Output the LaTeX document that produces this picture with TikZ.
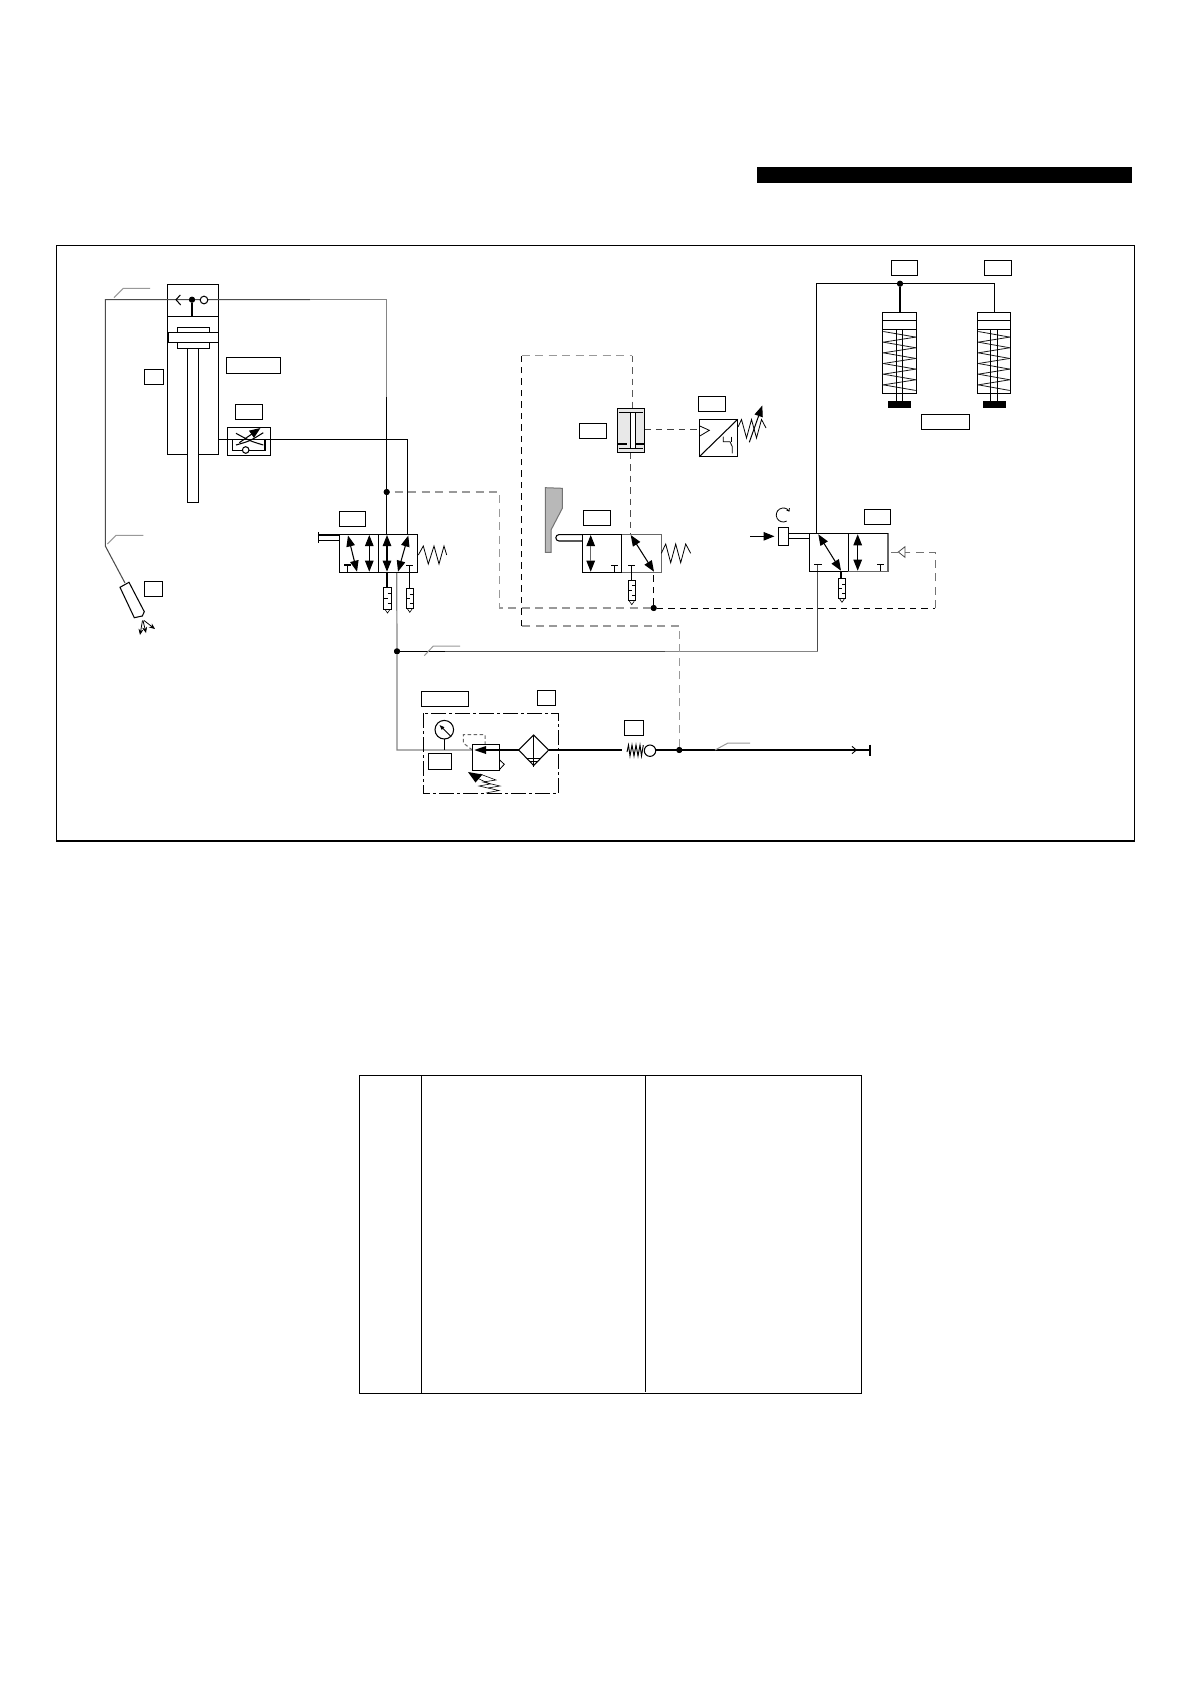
\documentclass[tikz,border=0pt]{standalone}
\usetikzlibrary{arrows.meta,patterns}
\definecolor{pipedark}{gray}{0.30}
\definecolor{pipegray}{gray}{0.52}
\definecolor{leadgray}{gray}{0.60}
\tikzset{
  x=1pt,y=-1pt,
  every path/.append style={line join=miter},
  base/.style={line width=1.05pt,draw=black},
  thinl/.style={line width=0.8pt,draw=black},
  pipe/.style={line width=1.05pt,draw=black},
  pipeD/.style={line width=1.05pt,draw=pipedark},
  pipeG/.style={line width=1.2pt,draw=pipegray},
  leaderl/.style={line width=1pt,draw=leadgray},
  pilotK/.style={line width=0.95pt,draw=black,dash pattern=on 6.5pt off 5pt},
  pilotG/.style={line width=1.2pt,draw=leadgray,dash pattern=on 8pt off 5.5pt},
  labelbox/.style={draw=black,line width=1pt,fill=white,inner sep=0pt,outer sep=0pt},
  dot/.style={circle,fill=black,inner sep=0pt,minimum size=6pt},
  dbl/.style={line width=1.05pt,{Triangle[length=11pt,width=8.5pt]}-{Triangle[length=11pt,width=8.5pt]}},
  sing/.style={line width=1.05pt,-{Triangle[length=11pt,width=8.5pt]}},
  frameline/.style={draw=black,line width=1.05pt},
}
% empty label box given by its corners
\newcommand{\lbox}[5]{%
  \pgfmathsetmacro{\lcx}{(#2+#4)/2}\pgfmathsetmacro{\lcy}{(#3+#5)/2}%
  \pgfmathsetmacro{\lw}{#4-#2}\pgfmathsetmacro{\lh}{#5-#3}%
  \node[labelbox,minimum width=\lw pt,minimum height=\lh pt] (#1) at (\lcx,\lcy) {};}
% silencer: centre x, top, bottom, half width
\newcommand{\silencer}[4]{%
  \pgfmathsetmacro{\sl}{#1-#4}\pgfmathsetmacro{\sr}{#1+#4}%
  \pgfmathsetmacro{\sa}{#2+(#3-#2)*0.28}\pgfmathsetmacro{\sb}{#2+(#3-#2)*0.5}\pgfmathsetmacro{\sc}{#2+(#3-#2)*0.75}%
  \draw[thinl,line width=1pt] (\sl,#2) rectangle (\sr,#3);
  \draw[thinl] (#1,\sa) -- (\sr,\sa) (\sl,\sb) -- (#1,\sb) (#1,\sc) -- (\sr,\sc);
  \draw[thinl,line width=.6pt] (#1-2.4,#3+.5) -- (#1,#3+4) -- (#1+2.4,#3+.5);}
% spring cylinder
\newcommand{\springcyl}[6]{% x1 x2 rod1 rod2 pad1 pad2
  \draw[base] (#1,312.3) rectangle (#2,393.7);
  \draw[base] (#1,320.3) -- (#2,320.3) (#1,329.3) -- (#2,329.3);
  \foreach \k in {0,...,5}{
    \pgfmathsetmacro{\ya}{331.5+10.67*\k}\pgfmathsetmacro{\yb}{\ya+5.6}\pgfmathsetmacro{\yc}{\ya+10.67}
    \draw[line width=.8pt,draw=black!90] (#1+1,\ya) -- (#2-1,\yb);
    \ifnum\k<5 \draw[line width=.8pt,draw=black!90] (#2-1,\yb) -- (#1+1,\yc);\fi
  }
  \draw[base] (#3,329.3) -- (#3,401) (#4,329.3) -- (#4,401);
  \fill[black] (#5,401) rectangle (#6,407.7);}
\begin{document}
\begin{tikzpicture}
\useasboundingbox (0,0) rectangle (1190,1684);
\fill[white] (0,0) rectangle (1190,1684);

% title bar, frame, table
\fill[black] (757.4,166.7) rectangle (1132.2,182.7);
\draw[frameline] (56.3,245.3) rectangle (1134.8,841);
\draw[line width=1.1pt] (359.3,1075.3) rectangle (861.6,1393.3);
\draw[line width=1.1pt] (421.4,1075.3) -- (421.4,1393.3);
\draw[line width=1.1pt] (645.9,1075.3) -- (645.9,1391.7);

% junctions and named points
\coordinate (gunbend) at (105.3,546);
\coordinate (gunin) at (125,583);
\coordinate (topL) at (105.3,299.7);
\coordinate (topR) at (386.7,299.7);
\node[dot] (jv) at (386.7,492) {};
\node[dot] (jtop) at (192,299.7) {};
\node[dot] (jair) at (397,651.3) {};
\node[dot] (jpil) at (653.7,608) {};
\node[dot] (jin) at (679.3,750) {};
\node[dot] (jcyl) at (900,283.7) {};
\coordinate (v1a) at (386.7,534.3);
\coordinate (v1b) at (407.3,534.3);
\coordinate (v1c) at (396.7,572.3);
\coordinate (v3a) at (816.3,533.3);
\coordinate (v3p) at (817.7,564.5);

% --- main cylinder ---
\draw[base] (167.3,284.3) rectangle (218.3,454.3);
\draw[base] (167.3,316.3) -- (218.3,316.3);
\draw[base,fill=white] (177.3,327.3) rectangle (209.7,348.7);
\draw[base,fill=white] (168.3,332.3) rectangle (218.3,342.3);
\draw[base,fill=white] (187.3,348.7) rectangle (198.7,502.7);

% --- pipes ---
\draw[pipeD] (gunin) -- (gunbend) -- (topL) -- (310,299.7);
\draw[pipeG] (310,299.7) -- (topR) -- (386.7,397);
\draw[pipe] (386.7,397) -- (jv) -- (v1a);
\draw[pipe] (218.3,439.3) -- (407.3,439.3) -- (v1b);
\draw[pipeG] (v1c) -- (jair) -- (397,750) -- (473,750);
\draw[pipe] (jair) -- (445,651.3);
\draw[pipeD] (445,651.3) -- (665,651.3);
\draw[pipeG,line width=1pt] (665,651.3) -- (817.7,651.3);
\draw[pipeD] (817.7,651.3) -- (v3p);
\draw[pipe] (v3a) -- (816.3,283.3) -- (994.3,283.3) -- (994.3,312.3);
\draw[pipe] (jcyl) -- (900,312.3);
\draw[pipe] (548.7,750) -- (622,750);
\draw[pipe] (655.7,750) -- (870,750);
\draw[pipe] (870,744.5) -- (870,755.5);
\draw[line width=.9pt] (852,746.3) -- (856.3,750) -- (852,753.7);

% top-of-cylinder check
\draw[base] (jtop) -- (192,316.3);
\draw[base] (180.3,295) -- (176,299.7) -- (180.7,305);
\draw[base,fill=white] (204,300) circle[radius=3.8pt];

% flow-control
\draw[base] (227.3,427.3) rectangle (270.7,455.7);
\draw[base] (236,433.3) .. controls (250,441) .. (263.3,445);
\draw[base] (236,445) .. controls (250,441) .. (263.3,432.7);
\draw[line width=1.05pt,-{Triangle[length=11pt,width=8.5pt]}] (239.3,442.7) -- (260.5,428);
\draw[base] (232.3,439.3) -- (232.3,450.3) -- (265,450.3) -- (265,439.3);
\draw[base,fill=white] (245.7,450) circle[radius=3.3pt];

% gun
\draw[base,fill=white] (120,587.3) -- (129,582.3) -- (144.3,611.7) -- (142.3,616) -- (134.3,617.7) -- cycle;
\draw[thinl,-{Stealth[length=6pt,width=5pt]}] (142.5,620.5) -- (140,635);
\draw[thinl,-{Stealth[length=6pt,width=5pt]}] (143,620.5) -- (146,633);
\draw[thinl,-{Stealth[length=6pt,width=5pt]}] (144,620.5) -- (155,629);

% leaders
\draw[leaderl] (114,297.7) -- (123.3,288.3) -- (150,288.3);
\draw[leaderl] (107.3,544) -- (116,535.3) -- (143.3,535.3);
\draw[leaderl] (424.3,655.7) -- (433.3,646) -- (460,646);
\draw[leaderl] (715,750) -- (728,743) -- (750,743);

% --- valve 1 ---
\draw[base] (339.3,534.3) rectangle (417.7,572.3);
\draw[base] (378.3,534.3) -- (378.3,572.3);
\draw[base] (339.3,535) -- (318.7,535) (339.3,540.5) -- (318.7,540.5);
\draw[base] (318.7,532) -- (318.7,543);
\draw[thinl] (418.3,555) -- (423.3,546) -- (428.3,564) -- (434,546) -- (439,564) -- (444,546) -- (446.7,555);
\draw[dbl] (348,535.5) -- (357,571.7);
\draw[dbl] (369.3,535) -- (369.3,571.7);
\draw[dbl] (387,535) -- (387,571.7);
\draw[dbl] (408.3,535.5) -- (398,571.7);
\draw[base] (347.3,572.3) -- (347.3,565) (344,565) -- (351,565);
\draw[base] (409.3,588.3) -- (409.3,565.2) (406,565.2) -- (413,565.2);
\draw[base] (387,572.3) -- (387,587.3);
\silencer{387.5}{587.3}{609}{4.2}
\silencer{409.8}{588.3}{608.3}{3.8}

% --- pilot lines ---
\draw[pilotG] (jv) ++(8,0) -- (499.5,492) -- (499.5,608) -- (jpil);
\draw[pilotK] (jpil) -- (935.3,608);
\draw[pilotG,line width=1pt,draw=black!55] (935.3,608) -- (935.3,552) -- (905,552);
\draw[pilotK] (jpil) -- (653.7,572.3);
\draw[pilotG] (jin) -- (679.3,626) -- (521.7,626);
\draw[pilotK] (521.7,626) -- (521.7,355.7);
\draw[pilotG] (521.7,355.7) -- (632,355.7);
\draw[pilotK,draw=black!65] (632,355.7) -- (632,408.3);
\draw[pilotK,draw=black!70] (630,452.7) -- (630,534.5);
\draw[pilotK,draw=black!75] (644.3,429.3) -- (699.3,429.3);

% --- shuttle element ---
\draw[base,fill=black!9] (617.3,408.3) rectangle (644.3,452.7);
\draw[base] (618.5,412.5) -- (643,412.5) (618.5,448.5) -- (643,448.5);
\draw[base,fill=white] (630.7,412.5) rectangle (635.5,448.5);
\draw[base] (618,444) -- (627,444) (635.5,444) -- (643.5,444);

% --- pressure switch ---
\draw[base] (699.3,419.3) rectangle (737.7,456.7);
\draw[base] (699.3,456.7) -- (737.7,419.3);
\draw[thinl] (699.8,426) -- (709.3,430.3) -- (699.8,436);
\draw[thinl] (723.3,436.7) -- (723.3,441.7) -- (730,441.7) -- (732.3,446.7) -- (732.3,453.3);
\draw[thinl] (731.7,436.7) -- (731.7,441.7);
\draw[thinl] (738,427) -- (741.5,419.5) -- (746.5,438) -- (751.5,419.5) -- (756.5,438) -- (761.5,419.5) -- (766,428);
\draw[line width=1pt,-{Triangle[length=11pt,width=8.5pt]}] (749.3,442.3) -- (762.3,405.5);

% --- cam ---
\draw[line width=1pt,draw=black!55,fill=black!28] (545.3,487.7) -- (562.3,488.3) -- (562.3,508.3) -- (551,530) -- (551,552.3) -- (545.3,552.3) -- cycle;

% --- valve 2 ---
\draw[pipeG,draw=black!60] (621.7,534.3) rectangle (661.3,572.3);
\draw[base] (582.3,534.3) -- (621.7,534.3) (582.3,572.3) -- (621.7,572.3) (582.3,534.3) -- (582.3,572.3) (621.7,534.3) -- (621.7,572.3);
\draw[base] (582.3,534.6) -- (559,534.6) arc[start angle=90,end angle=270,radius=3.2pt] -- (582.3,541);
\draw[thinl] (661.3,553.3) -- (665.7,544) -- (670.7,562.7) -- (675.7,544) -- (680.7,562.7) -- (685.7,544) -- (690.7,553.3);
\draw[dbl] (590.7,535) -- (590.7,571.7);
\draw[line width=1.05pt,draw=black!60] (590.7,546) -- (590.7,561);
\draw[dbl] (630.7,535) -- (654,571.7);
\draw[base] (614.3,572.3) -- (614.3,565.7) (611,565.7) -- (617.6,565.7);
\draw[base] (631.3,580) -- (631.3,565.7) (628,565.7) -- (634.6,565.7);
\silencer{631.8}{580}{600.7}{3.6}

% --- valve 3 ---
\draw[base] (809.3,533.3) rectangle (848.3,571.3);
\draw[pipeG,draw=black!60,line width=1.05pt] (848.3,571.3) -- (888,571.3) -- (888,533.3);
\draw[base] (848.3,533.3) -- (888,533.3);
\draw[base] (848.3,533.3) -- (848.3,571.3);
\draw[dbl] (818.3,534.3) -- (841,570.7);
\draw[dbl] (857.7,534.3) -- (857.7,570.7);
\draw[base] (814,564.5) -- (821.5,564.5);
\draw[base] (880.3,571.3) -- (880.3,564.5) (877,564.5) -- (883.6,564.5);
\draw[base] (841,571.3) -- (841,578.3);
\silencer{842}{578.3}{598.3}{3.7}
\draw[base] (788.7,533.3) -- (809.3,533.3) (788.7,538.7) -- (809.3,538.7);
\draw[base,fill=white] (778.3,527.3) rectangle (788.7,545.3);
\draw[sing] (750,536.3) -- (774.5,536.3);
\draw[line width=.8pt,{To[length=3pt,width=4pt]}-] (789.3,511.5) arc[start angle=30,end angle=300,radius=7pt];
\draw[line width=.8pt,draw=black!55] (891,552) -- (898.3,552);
\draw[thinl,draw=black!70,fill=white] (905,546.7) -- (905,557.3) -- (898.3,552) -- cycle;

% --- two spring cylinders ---
\springcyl{882.3}{916.7}{896.3}{902.7}{888}{911}
\springcyl{977.3}{1010.7}{990.3}{997.7}{983}{1006}

% --- FRL unit ---
\draw[line width=1pt,dash pattern=on 15pt off 3pt on 3pt off 3pt] (423.3,713.3) rectangle (558.7,793.3);
\draw[base] (444.3,739) -- (444.3,750);
\draw[base] (444.3,729.7) circle[radius=9.3pt];
\draw[line width=.9pt,-{Triangle[length=5pt,width=3.5pt]}] (451,736.5) -- (439.5,725);
\draw[line width=1pt,draw=black!60,dash pattern=on 3.5pt off 2.5pt] (472.3,750) -- (463.3,743) -- (463.3,734.7) -- (485,734.7) -- (485,744.3);
\draw[base,fill=white] (472.3,744.3) rectangle (499.7,770.7);
\draw[pipe] (480,750) -- (518.7,750);
\fill[black] (474.3,750) -- (486,746) -- (486,754) -- cycle;
\draw[thinl] (499.7,760) -- (504.3,764.3) -- (499.7,769.3);
\fill[black] (468,772) -- (482.5,774.5) -- (475.5,782.5) -- cycle;
\draw[line width=.6pt] (480,774) -- (496,780) -- (483,782) -- (500,786) -- (488,788);
\draw[line width=.6pt] (477,778) -- (490,784) -- (479,786) -- (499,790.5) -- (486,793);
\draw[base] (518.7,750) -- (533.7,735) -- (548.7,750) -- (533.7,765.5) -- cycle;
\draw[base] (533.7,735) -- (533.7,767);
\draw[thinl] (527,758.5) -- (540.5,758.5) (529.5,761) -- (538,761);

% check valve on supply
\draw[line width=.95pt] (627,752) -- (628.5,745) -- (630,756) -- (632,745) -- (634,756) -- (636,745) -- (638,756) -- (640,745) -- (641.5,756) -- (643.3,745);
\draw[base,fill=white] (650,750.7) circle[radius=5.7pt];

% redraw junction dots over pipes
\node[dot] at (jv) {};
\node[dot] at (jtop) {};
\node[dot] at (jair) {};
\node[dot] at (jpil) {};
\node[dot] at (jin) {};
\node[dot] at (jcyl) {};

% --- empty label boxes ---
\lbox{lb1}{144.3}{369.3}{163.7}{384.7}
\lbox{lb2}{226.3}{357.3}{280.7}{373.7}
\lbox{lb3}{235.3}{404.3}{262.7}{419.7}
\lbox{lb4}{144.3}{581.3}{162.7}{596.7}
\lbox{lb5}{339.3}{511.3}{365.7}{526.7}
\lbox{lb6}{421.3}{691.3}{468.7}{706.7}
\lbox{lb7}{537.3}{690.3}{555.7}{705.7}
\lbox{lb8}{428.3}{753.3}{451.7}{769.7}
\lbox{lb9}{624.3}{720.3}{643.7}{735.7}
\lbox{lb10}{579.3}{423.3}{606.7}{438.7}
\lbox{lb11}{698.3}{396.3}{725.7}{411.7}
\lbox{lb12}{583.3}{510.3}{610.7}{525.7}
\lbox{lb13}{864.3}{509.3}{890.7}{524.7}
\lbox{lb14}{891.3}{260.3}{917.7}{275.7}
\lbox{lb15}{984.3}{260.3}{1011.7}{275.7}
\lbox{lb16}{921.3}{414.3}{969.7}{429.7}
\end{tikzpicture}
\end{document}
